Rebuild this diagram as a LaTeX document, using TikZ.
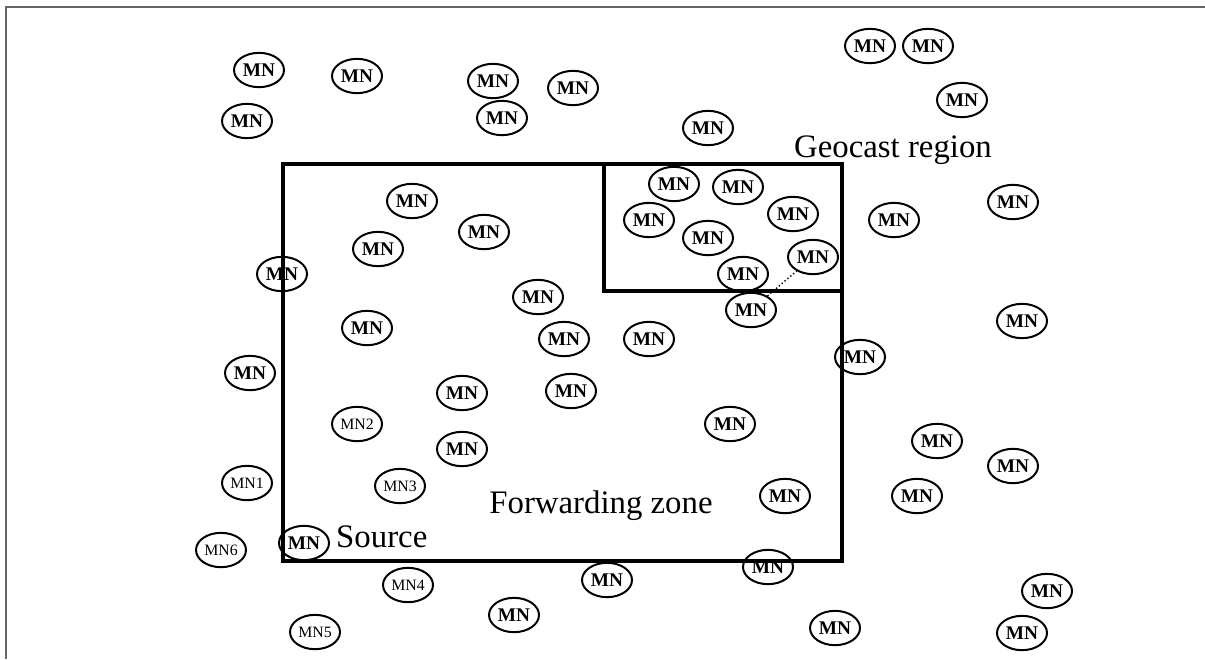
\documentclass[tikz,border=0pt]{standalone}
\usepackage{fontspec}
\setmainfont{Liberation Serif}
\usetikzlibrary{shapes.geometric}
\begin{document}
\begin{tikzpicture}[x=0.03cm, y=-0.03cm,
    mn/.style={draw, ellipse, line width=1.7pt, minimum width=1.5cm, minimum height=1.03cm, inner sep=0pt, font=\fontsize{16.5}{18}\selectfont\bfseries},
    mnk/.style={mn, font=\fontsize{13.5}{15}\selectfont},
    zone/.style={line width=2.8pt},
    lbl/.style={inner sep=0pt, font=\fontsize{28}{32}\selectfont}]
                \useasboundingbox (0,0) rectangle (1205,659);
                % Frame
                \draw[gray!80!black, line width=0.9pt] (1205,7) -- (6,7) -- (6,659);
                % Forwarding zone and geocast region
                \draw[zone] (283,164) rectangle (842,561);
                \draw[zone] (604,164) rectangle (842,291);
                \node[lbl, anchor=base] (fwd) at (601,513) {Forwarding zone};
                \node[lbl, anchor=base] (geo) at (893,157) {Geocast region};
                
                % Nodes above
                \node[mn] (t1) at (259,70) {MN};
                \node[mn] (t2) at (357,76) {MN};
                \node[mn] (t3) at (247,121) {MN};
                \node[mn] (t4) at (493,81) {MN};
                \node[mn] (t5) at (502,118) {MN};
                \node[mn] (t6) at (573,88) {MN};
                \node[mn] (t7) at (708,128) {MN};
                \node[mn] (t8) at (870,46) {MN};
                \node[mn] (t9) at (928,46) {MN};
                \node[mn] (t10) at (962,100) {MN};
                
                % Nodes on the right
                \node[mn] (r1) at (894,220) {MN};
                \node[mn] (r2) at (1013,202) {MN};
                \node[mn] (r3) at (1022,321) {MN};
                \node[mn] (r4) at (860,357) {MN};
                \node[mn] (r5) at (937,441) {MN};
                \node[mn] (r6) at (1013,466) {MN};
                \node[mn] (r7) at (917,496) {MN};
                \node[mn] (r8) at (1047,591) {MN};
                \node[mn] (r9) at (1022,633) {MN};
                \node[mn] (r10) at (835,628) {MN};
                
                % Geocast region
                \node[mn] (g1) at (674,184) {MN};
                \node[mn] (g2) at (738,187) {MN};
                \node[mn] (g3) at (649,220) {MN};
                \node[mn] (g4) at (708,238) {MN};
                \node[mn] (g5) at (793,214) {MN};
                \node[mn] (g6) at (813,257) {MN};
                \node[mn] (g7) at (743,274) {MN};
                \node[mn] (g8) at (751,310) {MN};
                \draw[dotted, line width=1.2pt] (g8) -- (g6);
                
                % Forwarding zone
                \node[mn] (f1) at (412,201) {MN};
                \node[mn] (f2) at (484,232) {MN};
                \node[mn] (f3) at (378,249) {MN};
                \node[mn] (f4) at (282,274) {MN};
                \node[mn] (f5) at (538,297) {MN};
                \node[mn] (f6) at (367,328) {MN};
                \node[mn] (f7) at (564,339) {MN};
                \node[mn] (f8) at (649,339) {MN};
                \node[mn] (f9) at (571,391) {MN};
                \node[mn] (f10) at (462,393) {MN};
                \node[mn] (f11) at (462,449) {MN};
                \node[mn] (f12) at (730,424) {MN};
                \node[mn] (f13) at (785,496) {MN};
                \node[mn] (f14) at (768,567) {MN};
                
                % Source side
                \node[mn] (l1) at (250,373) {MN};
                \node[mnk] (mn1) at (247,483) {MN1};
                \node[mnk] (mn2) at (357,424) {MN2};
                \node[mnk] (mn3) at (400,486) {MN3};
                \node[mnk] (mn4) at (408,585) {MN4};
                \node[mnk] (mn5) at (315,632) {MN5};
                \node[mnk] (mn6) at (221,550) {MN6};
                \node[mn] (src) at (304,543) {MN};
                \node[lbl, anchor=base west] (srclbl) at (336,547) {Source};
                \node[mn] (b1) at (607,580) {MN};
                \node[mn] (b2) at (514,615) {MN};
            \end{tikzpicture}
\end{document}
